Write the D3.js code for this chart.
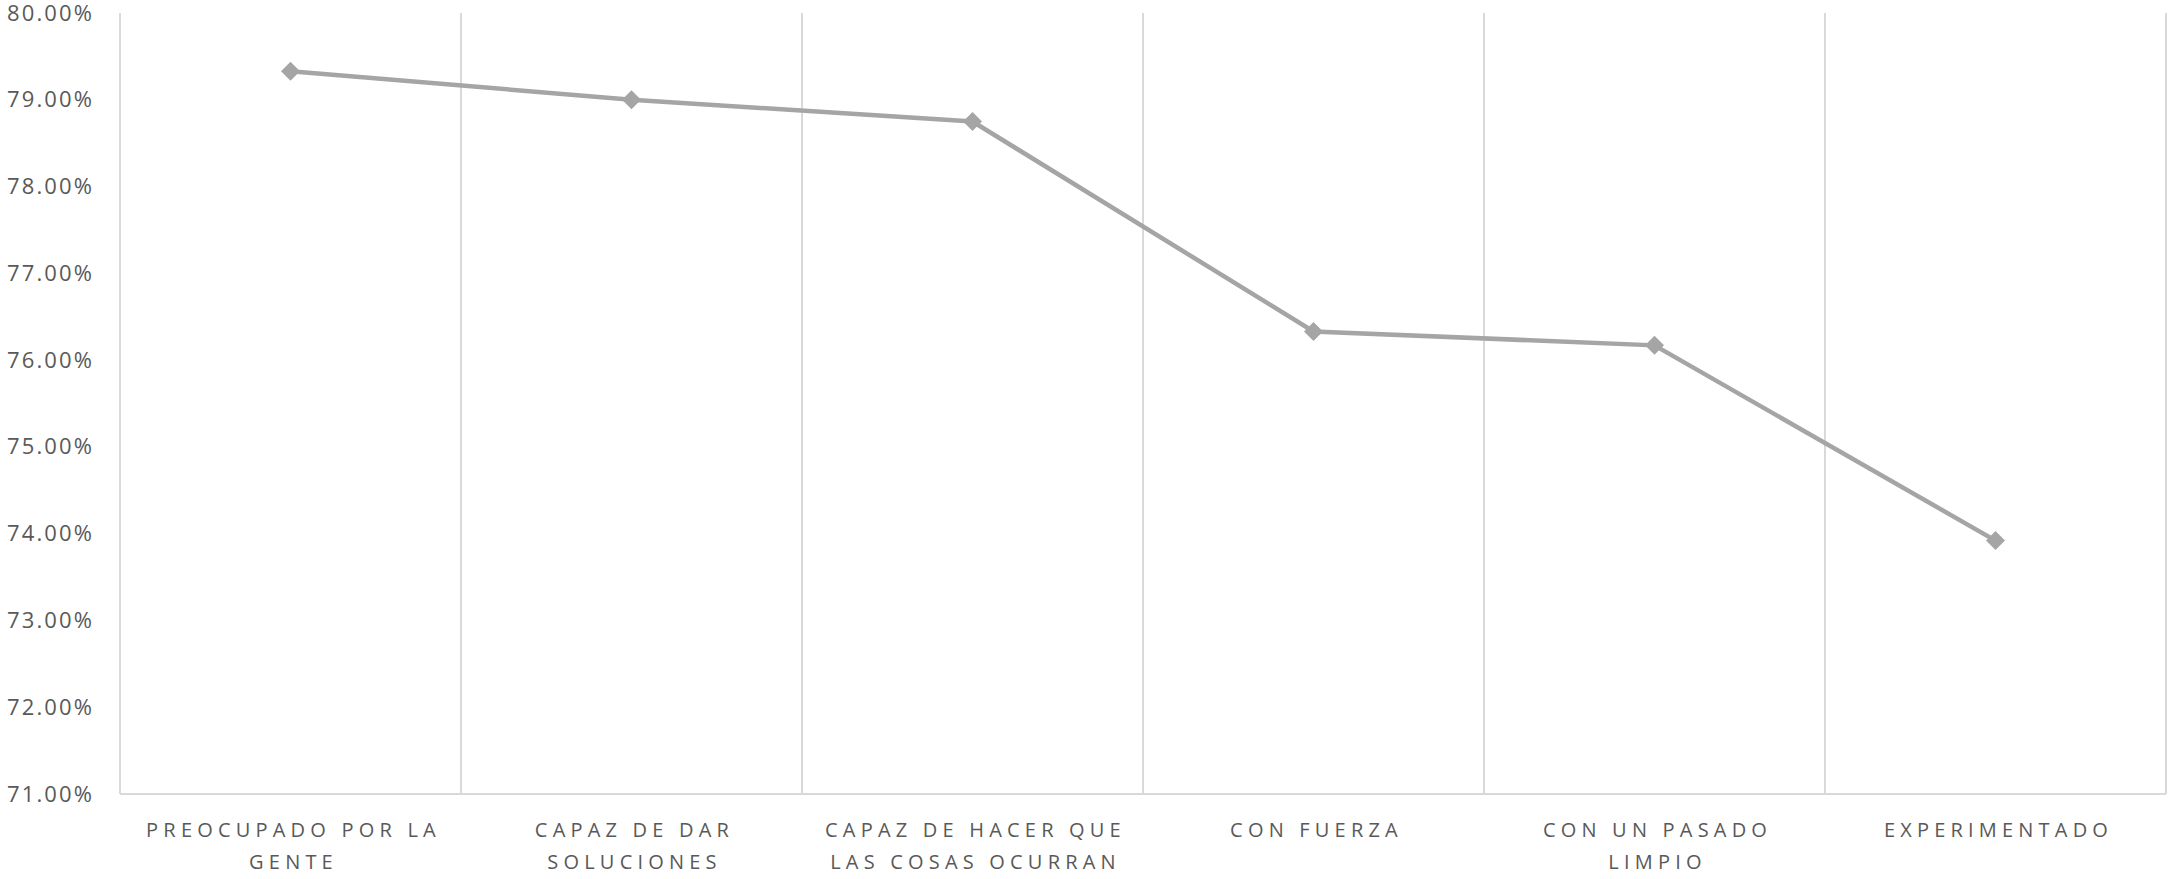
<!DOCTYPE html>
<html>
<head>
<meta charset="utf-8">
<script src="https://cdn.jsdelivr.net/npm/d3@7"></script>
<style>
  html, body { margin: 0; padding: 0; background: #fff; }
  svg { display: block; }
</style>
</head>
<body>
<div id="chart"></div>
<script>
// datos
const categories = [
  "PREOCUPADO POR LA\nGENTE",
  "CAPAZ DE DAR\nSOLUCIONES",
  "CAPAZ DE HACER QUE\nLAS COSAS OCURRAN",
  "CON FUERZA",
  "CON UN PASADO\nLIMPIO",
  "EXPERIMENTADO"
];
const values = [79.33, 79.0, 78.75, 76.33, 76.17, 73.92];
const yTicks = [71, 72, 73, 74, 75, 76, 77, 78, 79, 80];

const width = 2170, height = 879;
const margin = { left: 120, right: 4, top: 13, bottom: 85 };

const svg = d3.select("#chart").append("svg")
  .attr("width", width)
  .attr("height", height);

const innerWidth = width - margin.left - margin.right;
const innerHeight = height - margin.top - margin.bottom;

const g = svg.append("g")
  .attr("transform", `translate(${margin.left},${margin.top})`);

// escalas
const xScale = d3.scaleBand().domain(categories).range([0, innerWidth]);
const yScale = d3.scaleLinear().domain([71, 80]).range([innerHeight, 0]);

// lineas verticales entre categorias
const bounds = categories.map(c => xScale(c)).concat([innerWidth]);
g.selectAll(".grid")
  .data(bounds)
  .join("line")
  .attr("class", "grid")
  .attr("x1", d => d).attr("x2", d => d)
  .attr("y1", 0).attr("y2", innerHeight)
  .attr("stroke", "#d9d9d9")
  .attr("stroke-width", 2);

// eje x (linea base)
g.append("line")
  .attr("x1", 0).attr("x2", innerWidth)
  .attr("y1", innerHeight).attr("y2", innerHeight)
  .attr("stroke", "#d9d9d9")
  .attr("stroke-width", 2);

// eje y
const yAxis = g.append("g")
  .call(d3.axisLeft(yScale).tickValues(yTicks).tickSize(0).tickPadding(26)
    .tickFormat(d => d3.format(".2f")(d) + "%"));
yAxis.select(".domain").remove();
yAxis.selectAll("text")
  .attr("fill", "#595959")
  .style("font-family", "'Open Sans', sans-serif")
  .style("font-size", "22px")
  .style("letter-spacing", "2.1px");

// etiquetas x
const xLabels = g.append("g")
  .attr("transform", `translate(0,${innerHeight})`)
  .selectAll("text")
  .data(categories)
  .join("text")
  .attr("transform", d => `translate(${xScale(d) + xScale.bandwidth() / 2},0)`)
  .attr("text-anchor", "middle")
  .attr("fill", "#595959")
  .style("font-family", "'Open Sans', sans-serif")
  .style("font-size", "20px")
  .style("letter-spacing", "5.2px");
xLabels.selectAll("tspan")
  .data(d => d.split("\n"))
  .join("tspan")
  .attr("x", 3)
  .attr("y", (d, i) => 43 + i * 32)
  .text(d => d);

// linea
const line = d3.line()
  .x((d, i) => xScale(categories[i]) + xScale.bandwidth() / 2)
  .y(d => yScale(d));

g.append("path")
  .datum(values)
  .attr("fill", "none")
  .attr("stroke", "#a5a5a5")
  .attr("stroke-width", 4.5)
  .attr("d", line);

// marcadores
g.selectAll(".marker")
  .data(values)
  .join("path")
  .attr("class", "marker")
  .attr("d", d3.symbol().type(d3.symbolDiamond2).size(230))
  .attr("transform", (d, i) =>
    `translate(${xScale(categories[i]) + xScale.bandwidth() / 2},${yScale(d)})`)
  .attr("fill", "#a5a5a5");
</script>
</body>
</html>
